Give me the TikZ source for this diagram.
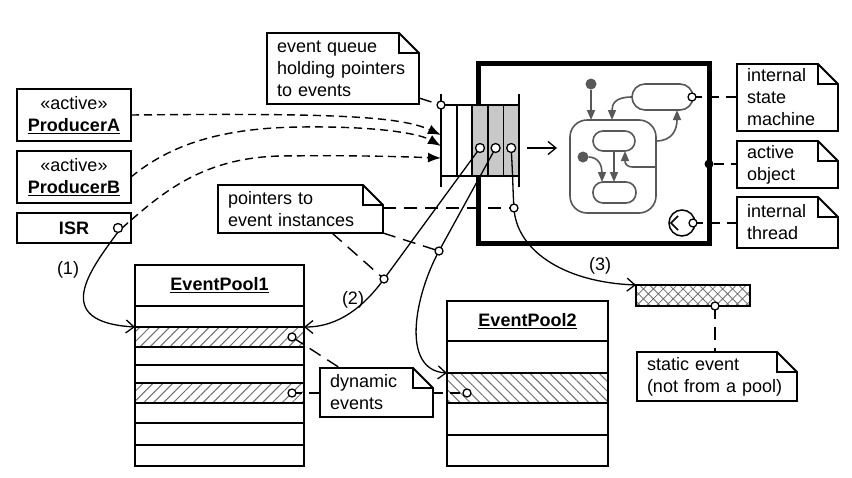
\documentclass[tikz,border=0pt]{standalone}
\usepackage{fontspec}
\setmainfont{Liberation Sans}
\usetikzlibrary{arrows.meta,patterns.meta}
\definecolor{smg}{RGB}{88,88,88}
\definecolor{qgray}{RGB}{200,200,200}
\definecolor{hatchg}{RGB}{110,110,110}
\tikzset{
  every node/.style={font=\fontsize{18}{22}\selectfont},
  box/.style={draw, line width=1.8pt, inner sep=0pt, outer sep=0pt, align=center},
  notetxt/.style={fill=white, inner xsep=10pt, inner ysep=0pt, outer sep=0pt, align=left, anchor=north west},
  notebd/.style={line width=1.8pt, line join=miter},
  prod/.style={dash pattern=on 8pt off 5pt, line width=1.4pt, -{Latex[length=13pt,width=10pt]}},
  ndash/.style={dash pattern=on 13pt off 8pt, line width=1.4pt},
  sdash/.style={dash pattern=on 10pt off 7pt, line width=1.4pt},
  conn/.style={line width=1.3pt},
  opentip/.style={-{Straight Barb[length=8pt,width=13pt]}},
  port/.style={circle, draw, fill=white, line width=1.3pt, minimum size=#1, inner sep=0pt, outer sep=0pt},
  port/.default=8pt,
  smbox/.style={draw=smg, line width=1.6pt, inner sep=0pt, outer sep=0pt, anchor=north west},
  smline/.style={draw=smg, line width=1.6pt, -{Triangle[length=10pt,width=8pt]}},
  smdot/.style={circle, fill=smg, minimum size=11pt, inner sep=0pt},
  lbl/.style={inner sep=0pt},
  hatchA/.style={pattern={Lines[angle=45,distance=7pt,line width=1pt]}, pattern color=hatchg},
  hatchB/.style={pattern={Lines[angle=-45,distance=7pt,line width=1pt]}, pattern color=hatchg},
  hatchX/.style={pattern={Hatch[angle=45,distance=7pt,line width=0.8pt]}, pattern color=hatchg},
}
\begin{document}
\begin{tikzpicture}[x=1pt,y=-1pt]
\fill[white] (0,0) rectangle (852,477);
\useasboundingbox (0,0) rectangle (852,477);

% producers
\node[box, minimum width=114pt, minimum height=52pt] (pa) at (74,115) {«active»\\\underline{\textbf{ProducerA}}};
\node[box, minimum width=114pt, minimum height=52pt] (pb) at (74,177) {«active»\\\underline{\textbf{ProducerB}}};
\node[box, minimum width=114pt, minimum height=30pt] (isr) at (74,228) {\textbf{ISR}};

% notes
\node[notetxt, text width=132pt, minimum height=71pt] (nq) at (267,33) {event queue\\holding pointers\\to events};
\node[notetxt, text width=145pt, minimum height=48pt] (np) at (218,185) {pointers to\\event instances};
\node[notetxt, text width=81pt, minimum height=67pt] (nism) at (737,64) {internal\\state\\machine};
\node[notetxt, text width=81pt, minimum height=47pt] (nao) at (737,141) {active\\object};
\node[notetxt, text width=81pt, minimum height=51pt] (nit) at (737,197) {internal\\thread};
\node[notetxt, text width=93pt, minimum height=49pt] (nde) at (320,368) {dynamic\\events};
\node[notetxt, text width=140pt, minimum height=49pt] (nse) at (637,352) {static event\\(not from a pool)};
\foreach \n in {nq,np,nism,nao,nit,nde,nse}{
  \fill[white] ([xshift=-20pt]\n.north east) -- (\n.north east) -- ([yshift=-20pt]\n.north east) -- cycle;
  \draw[notebd] (\n.north west) -- ([xshift=-20pt]\n.north east) -- ([yshift=-20pt]\n.north east) -- (\n.south east) -- (\n.south west) -- cycle;
  \draw[notebd, line width=1.3pt] ([xshift=-20pt]\n.north east) |- ([yshift=-20pt]\n.north east);
}

% event pool 1
\node[box, minimum width=169pt, minimum height=41pt, anchor=north west] (ep1) at (135,265) {\underline{\textbf{EventPool1}}};
\path[hatchA] (135,327) rectangle (304,347);
\path[hatchA] (135,383) rectangle (304,403);
\foreach \a/\b [count=\i] in {306/327,327/347,347/365,365/383,383/403,403/423,423/445,445/466}
  \node[box, minimum width=169pt, minimum height={(\b-\a)*1pt}, anchor=north west] (ep1r\i) at (135,\a) {};

% event pool 2
\node[box, minimum width=161pt, minimum height=40pt, anchor=north west] (ep2) at (447,301) {\underline{\textbf{EventPool2}}};
\path[hatchB] (447,373) rectangle (608,403);
\foreach \a/\b [count=\i] in {341/373,373/403,403/435,435/466}
  \node[box, minimum width=161pt, minimum height={(\b-\a)*1pt}, anchor=north west] (ep2r\i) at (447,\a) {};

% static event
\path[hatchX] (636,285) rectangle (750,306);
\node[box, minimum width=114pt, minimum height=21pt, anchor=north west] (se) at (636,285) {};

% active object
\node[draw, line width=5pt, minimum width=231pt, minimum height=180pt, anchor=north west, inner sep=0pt, outer sep=0pt] (ao) at (478,63) {};

% queue
\foreach \i/\c in {1/white,2/white,3/qgray,4/qgray,5/qgray}
  \node[draw, line width=1.8pt, fill=\c, minimum width=15.6pt, minimum height=71pt, anchor=north west, inner sep=0pt, outer sep=0pt] (qc\i) at ({441+15.6*(\i-1)},105) {};
\draw[line width=1.8pt] ([yshift=11pt]qc1.north west) -- ([yshift=-11pt]qc1.south west);
\draw[line width=1.8pt] ([yshift=11pt]qc5.north east) -- ([yshift=-11pt]qc5.south east);

% state machine
\node[smbox, rounded corners=17pt, minimum width=86pt, minimum height=93pt] (smbig) at (570,120) {};
\node[smbox, rounded corners=10pt, minimum width=42pt, minimum height=20pt] (smtop) at (593,131) {};
\node[smbox, rounded corners=10pt, minimum width=43pt, minimum height=21pt] (smbot) at (593,182) {};
\node[smbox, rounded corners=13pt, minimum width=61pt, minimum height=26pt] (smtr) at (632,84) {};
\node[smdot] (smi1) at (591,84) {};
\node[smdot] (smi2) at (583,157) {};
\coordinate (sma1) at (612,120);
\coordinate (smr1) at (656,141);
\coordinate (sma2) at (677,110);
\coordinate (smr2) at (656,167);
\coordinate (sma3) at (625,151);
\coordinate (smt) at (614,151);
\coordinate (smb) at (614,182);
\coordinate (sma5) at (602,182);
\draw[smline] (smi1) -- (smi1 |- smbig.north);
\draw[smline] (smtr.west) .. controls (615,97) and (612,104) .. (sma1);
\draw[smline] (smr1) .. controls (672,141) and (677,130) .. (sma2);
\draw[smline] (smr2) -- (633,167) .. controls (626,167) and (625,163) .. (sma3);
\draw[smline] (smt) -- (smb);
\draw[smline] (smi2) .. controls (598,157) and (602,165) .. (sma5);

% thread and active object dot
\node[circle, draw, line width=1.5pt, minimum size=26pt, inner sep=0pt] (thr) at (682,223) {};
\draw[line width=1.5pt] (678,216) -- (671,223) -- (678,230);
\node[circle, fill=black, minimum size=9pt, inner sep=0pt] (aodot) at (709,164) {};

% coordinates
\coordinate (qin1) at (441,135);
\coordinate (qin2) at (441,146);
\coordinate (qin3) at (441,158);
\coordinate (q1) at (480,148);
\coordinate (q2) at (495.6,148);
\coordinate (q3) at (511.2,148);
\coordinate (c1) at (384,279);
\coordinate (c2) at (439,251);
\coordinate (c3) at (514,208);
\coordinate (qa) at (527,148);
\coordinate (qb) at (557,148);
\coordinate (isrp) at (118,228);
\coordinate (p1) at (292,337);
\coordinate (p2) at (292,393);
\coordinate (p3) at (467,393);
\coordinate (sep) at (715,306);
\coordinate (smtrp) at (692,97);
\coordinate (thp) at (693,223);

% producer connectors
\draw[prod] (pa.east) .. controls (330,113) and (400,116) .. (qin1);
\draw[prod] (pb.east) .. controls (170,145) and (220,128) .. (300,127) .. controls (380,126) and (420,134) .. (qin2);
\draw[prod] ([xshift=4pt]isrp) .. controls (160,195) and (200,158) .. (280,156) .. controls (360,155) and (410,157) .. (qin3);

% event flows
\draw[conn, opentip] ([yshift=-4pt]isrp) .. controls (90,270) and (50,322) .. (ep1r1.south west);
\draw[conn, opentip] (q1) -- (c1) .. controls (365,305) and (340,327) .. (ep1r1.south east);
\draw[conn, opentip] (q2) -- (c2) .. controls (415,295) and (400,370) .. (ep2r1.south west);
\draw[conn, opentip] (q3) .. controls (513,180) and (513,195) .. (c3) .. controls (516,248) and (560,282) .. (se.north west);
\draw[conn, opentip] (qa) -- (qb);

% note connectors
\draw[ndash] ([yshift=6pt]nq.south east) -- (qc1.north west);
\draw[ndash] (np.east |- c3) -- (c3);
\draw[ndash] (np.south east) -- (c2);
\draw[ndash] ([xshift=-51pt]np.south east) -- (c1);
\draw[ndash] (p1) -- ([xshift=20pt]nde.north west);
\draw[sdash] (p2) -- (nde.west |- p2);
\draw[sdash] (nde.east |- p3) -- (p3);
\draw[ndash] (sep) -- (sep |- nse.north);
\draw[sdash] (smtrp) -- (nism.west |- smtrp);
\draw[sdash] (aodot) -- (nao.west |- aodot);
\draw[sdash] (thp) -- (nit.west |- thp);

% ports
\node[port=9pt] (qp1) at (q1) {};
\node[port=9pt] (qp2) at (q2) {};
\node[port=9pt] (qp3) at (q3) {};
\node[port] (qtp) at (qc1.north west) {};
\node[port] (cp1) at (c1) {};
\node[port] (cp2) at (c2) {};
\node[port] (cp3) at (c3) {};
\node[port=9pt] (ip) at (isrp) {};
\node[port] (pp1) at (p1) {};
\node[port] (pp2) at (p2) {};
\node[port] (pp3) at (p3) {};
\node[port] (sp) at (sep) {};
\node[port] (smp) at (smtrp) {};
\node[port] (tp) at (thp) {};

% labels
\node[lbl] (l1) at (68,270) {(1)};
\node[lbl] (l2) at (353,300) {(2)};
\node[lbl] (l3) at (600,266) {(3)};
\end{tikzpicture}
\end{document}
